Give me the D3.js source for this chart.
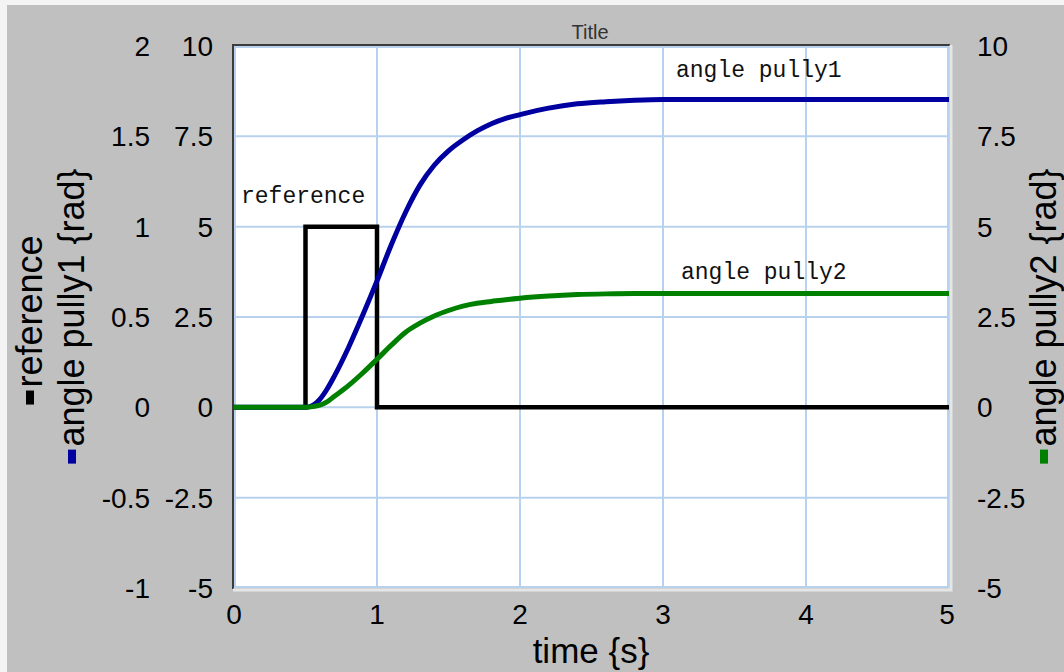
<!DOCTYPE html>
<html>
<head>
<meta charset="utf-8">
<script src="https://cdn.jsdelivr.net/npm/d3@7"></script>
<style>
  body { margin: 0; background: #f4f4f4; }
  svg { display: block; }
</style>
</head>
<body>
<div class="chart"></div>
<script>
// DATA
const timeTicks = [0, 1, 2, 3, 4, 5];
const leftTicks1 = [-1, -0.5, 0, 0.5, 1, 1.5, 2];
const leftTicks2 = [-5, -2.5, 0, 2.5, 5, 7.5, 10];
const rightTicks = [-5, -2.5, 0, 2.5, 5, 7.5, 10];

const refTime = [0, 0.5, 0.5, 1, 1, 5];
const refValue = [0, 0, 1, 1, 0, 0];

const pullyTime = [0, 0.5, 0.55, 0.6, 0.65, 0.7, 0.8, 0.9, 1.0, 1.1, 1.2, 1.3, 1.4, 1.5, 1.6, 1.7, 1.8, 1.9, 2.0, 2.2, 2.4, 2.6, 2.8, 3.0, 3.5, 4, 4.5, 5];
const pully1 = [0, 0, 0.05, 0.22, 0.5, 0.85, 1.65, 2.55, 3.5, 4.5, 5.4, 6.15, 6.7, 7.1, 7.4, 7.65, 7.85, 8.0, 8.1, 8.28, 8.4, 8.46, 8.5, 8.52, 8.52, 8.52, 8.52, 8.52];
const pully2 = [0, 0, 0.02, 0.06, 0.15, 0.3, 0.6, 0.95, 1.33, 1.72, 2.08, 2.33, 2.53, 2.68, 2.8, 2.88, 2.93, 2.98, 3.02, 3.08, 3.12, 3.14, 3.15, 3.15, 3.15, 3.15, 3.15, 3.15];

// Setup
const width = 1064, height = 672;
const plot = { left: 234, right: 949, top: 46, bottom: 588 };
const tickFont = "'Liberation Sans', Arial, sans-serif";
const monoFont = "'Liberation Mono', 'Courier New', monospace";

const x = d3.scaleLinear().domain([0, 5]).range([plot.left, plot.right]);
const yRef = d3.scaleLinear().domain([-1, 2]).range([plot.bottom, plot.top]);
const yLeft = d3.scaleLinear().domain([-5, 10]).range([plot.bottom, plot.top]);
const yRight = d3.scaleLinear().domain([-5, 10]).range([plot.bottom, plot.top]);

const svg = d3.select(".chart").append("svg")
  .attr("width", width)
  .attr("height", height);

// background
svg.append("rect")
  .attr("x", 7).attr("y", 5)
  .attr("width", width - 7).attr("height", height - 5)
  .attr("fill", "#c0c0c0");

// plot area
svg.append("rect")
  .attr("x", plot.left).attr("y", plot.top)
  .attr("width", plot.right - plot.left).attr("height", plot.bottom - plot.top)
  .attr("fill", "#fff");

// grid
const grid = svg.append("g").attr("stroke", "#b8d2ee").attr("stroke-width", 2);
grid.selectAll(".vgrid").data(timeTicks).enter().append("line")
  .attr("x1", d => x(d) + (d === 0 ? 1 : d === 5 ? -1 : 0))
  .attr("x2", d => x(d) + (d === 0 ? 1 : d === 5 ? -1 : 0))
  .attr("y1", plot.top).attr("y2", plot.bottom);
grid.selectAll(".hgrid").data(leftTicks1).enter().append("line")
  .attr("y1", d => yRef(d) + (d === 2 ? 1 : d === -1 ? -1 : 0))
  .attr("y2", d => yRef(d) + (d === 2 ? 1 : d === -1 ? -1 : 0))
  .attr("x1", plot.left).attr("x2", plot.right);

// frame (inset look)
svg.append("path")
  .attr("d", `M${plot.left - 1},${plot.bottom + 1}V${plot.top - 1}H${plot.right + 1}`)
  .attr("fill", "none").attr("stroke", "#3c3c3c").attr("stroke-width", 2);
svg.append("path")
  .attr("d", `M${plot.left - 1},${plot.bottom + 2}H${plot.right + 2}V${plot.top - 1}`)
  .attr("fill", "none").attr("stroke", "#e6e6e6").attr("stroke-width", 3);

// series
svg.append("clipPath").attr("id", "clip").append("rect")
  .attr("x", plot.left).attr("y", plot.top - 2)
  .attr("width", plot.right - plot.left + 2).attr("height", plot.bottom - plot.top + 4);

const series = svg.append("g").attr("clip-path", "url(#clip)");

const refLine = d3.line().x((d, i) => x(refTime[i])).y(d => yRef(d));
series.append("path")
  .attr("d", refLine(refValue))
  .attr("fill", "none").attr("stroke", "#000").attr("stroke-width", 4.5)
  .attr("stroke-linejoin", "miter");

const line1 = d3.line().x((d, i) => x(pullyTime[i])).y(d => yLeft(d)).curve(d3.curveMonotoneX);
series.append("path")
  .attr("d", line1(pully1))
  .attr("fill", "none").attr("stroke", "#0000a0").attr("stroke-width", 5);

const line2 = d3.line().x((d, i) => x(pullyTime[i])).y(d => yRight(d)).curve(d3.curveMonotoneX);
series.append("path")
  .attr("d", line2(pully2))
  .attr("fill", "none").attr("stroke", "#008000").attr("stroke-width", 5);

// series labels
const labels = svg.append("g")
  .style("font-family", monoFont).style("font-size", "23px").attr("fill", "#111");
labels.append("text").attr("x", 241).attr("y", 203).text("reference");
labels.append("text").attr("x", 676).attr("y", 77).text("angle pully1");
labels.append("text").attr("x", 681).attr("y", 279).text("angle pully2");

// tick labels
const ticks = svg.append("g")
  .style("font-family", tickFont).style("font-size", "28px").attr("fill", "#000");

ticks.selectAll(".t1").data(leftTicks1).enter().append("text")
  .attr("x", 150).attr("y", d => yRef(d)).attr("dy", "0.36em")
  .attr("text-anchor", "end").text(d => d);

ticks.selectAll(".t2").data(leftTicks2).enter().append("text")
  .attr("x", 213).attr("y", d => yLeft(d)).attr("dy", "0.36em")
  .attr("text-anchor", "end").text(d => d);

ticks.selectAll(".t3").data(rightTicks).enter().append("text")
  .attr("x", 977).attr("y", d => yRight(d)).attr("dy", "0.36em")
  .attr("text-anchor", "start").text(d => d);

ticks.selectAll(".tx").data(timeTicks).enter().append("text")
  .attr("x", d => x(d) - (d === 5 ? 2 : 0)).attr("y", 614).attr("dy", "0.36em")
  .attr("text-anchor", "middle").text(d => d);

// title
svg.append("text")
  .attr("x", 590).attr("y", 39)
  .attr("text-anchor", "middle")
  .style("font-family", tickFont).style("font-size", "20px").attr("fill", "#333")
  .text("Title");

// x axis title
svg.append("text")
  .attr("x", 591).attr("y", 663)
  .attr("text-anchor", "middle")
  .style("font-family", tickFont).style("font-size", "35px")
  .text("time {s}");

// rotated axis titles with colour markers
const addAxisTitle = (bx, cy, label, color) => {
  const g = svg.append("g").attr("transform", `translate(${bx},${cy}) rotate(-90)`);
  const t = g.append("text")
    .style("font-family", tickFont).style("font-size", "36px")
    .text(label);
  const w = t.node().getComputedTextLength();
  const mark = 14, gap = 3;
  const start = -(mark + gap + w) / 2;
  t.attr("x", start + mark + gap);
  g.append("rect")
    .attr("x", start).attr("y", -16)
    .attr("width", mark).attr("height", 8)
    .attr("fill", color);
};

addAxisTitle(42, 320, "reference", "#000");
addAxisTitle(84, 316, "angle pully1 {rad}", "#0000a0");
addAxisTitle(1056, 316, "angle pully2 {rad}", "#008000");
</script>
</body>
</html>
